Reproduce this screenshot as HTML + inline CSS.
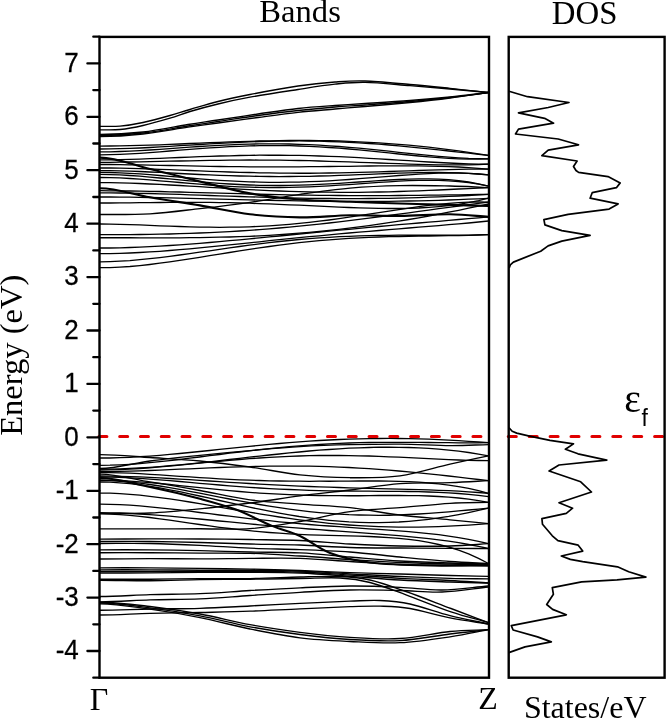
<!DOCTYPE html>
<html><head><meta charset="utf-8"><style>
html,body{margin:0;padding:0;background:#fff;}
svg{display:block;}
</style></head><body>
<svg width="666" height="719" viewBox="0 0 666 719" style="will-change:transform">
<rect width="666" height="719" fill="#fff"/>
<g fill="none" stroke="#000" stroke-width="1.35" stroke-linejoin="round">
<path d="M100.0 126.3C106.7 126.3 112.8 126.7 120.0 126.1C127.2 125.5 134.7 124.3 143.0 122.5C151.3 120.7 162.2 117.7 170.0 115.5C177.8 113.3 182.0 111.8 190.0 109.5C198.0 107.2 208.0 104.0 218.0 101.5C228.0 99.0 236.7 97.1 250.0 94.5C263.3 91.9 283.8 88.1 298.0 86.0C312.2 83.9 323.8 82.8 335.0 82.0C346.2 81.2 352.5 80.6 365.0 81.0C377.5 81.4 395.8 83.3 410.0 84.5C424.2 85.7 436.9 87.0 450.0 88.3C463.1 89.6 475.7 91.1 488.5 92.5"/>
<path d="M100.0 129.8C106.7 129.8 112.8 130.2 120.0 129.5C127.2 128.8 134.7 127.4 143.0 125.5C151.3 123.6 162.2 120.5 170.0 118.2C177.8 115.9 182.0 113.9 190.0 111.5C198.0 109.1 208.0 106.4 218.0 104.0C228.0 101.6 236.7 99.6 250.0 97.2C263.3 94.8 283.8 91.7 298.0 89.5C312.2 87.3 323.8 85.4 335.0 84.2C346.2 83.0 352.5 82.1 365.0 82.3C377.5 82.5 395.8 84.5 410.0 85.6C424.2 86.7 436.9 87.8 450.0 89.0C463.1 90.2 475.7 91.3 488.5 92.5"/>
<path d="M100.0 134.5C114.3 134.5 128.3 133.7 143.0 132.0C157.7 130.3 175.5 126.5 188.0 124.5C200.5 122.5 206.3 121.8 218.0 120.0C229.7 118.2 244.7 115.9 258.0 114.0C271.3 112.1 285.2 109.9 298.0 108.5C310.8 107.1 323.8 106.3 335.0 105.5C346.2 104.7 352.5 104.3 365.0 103.5C377.5 102.7 395.8 101.6 410.0 100.5C424.2 99.4 436.9 98.3 450.0 97.0C463.1 95.7 475.7 94.0 488.5 92.5"/>
<path d="M100.0 135.5C114.3 135.5 128.3 134.6 143.0 133.0C157.7 131.4 175.5 127.9 188.0 126.0C200.5 124.1 206.3 123.2 218.0 121.5C229.7 119.8 244.7 117.3 258.0 115.5C271.3 113.7 285.2 111.9 298.0 110.5C310.8 109.1 323.8 107.9 335.0 107.0C346.2 106.1 352.5 105.9 365.0 105.0C377.5 104.1 395.8 102.8 410.0 101.5C424.2 100.2 436.9 99.0 450.0 97.5C463.1 96.0 475.7 94.2 488.5 92.5"/>
<path d="M100.0 136.5C114.3 136.5 128.3 135.6 143.0 134.0C157.7 132.4 175.5 129.0 188.0 127.2C200.5 125.4 206.3 124.6 218.0 123.0C229.7 121.4 244.7 119.3 258.0 117.5C271.3 115.7 285.2 113.7 298.0 112.3C310.8 110.9 323.8 110.0 335.0 109.0C346.2 108.0 352.5 107.6 365.0 106.5C377.5 105.4 395.8 103.9 410.0 102.5C424.2 101.1 436.9 99.7 450.0 98.0C463.1 96.3 475.7 94.3 488.5 92.5"/>
<path d="M100.0 146.1 L110.0 146.0 L119.9 145.9 L129.9 145.7 L139.8 145.4 L149.8 145.1 L159.8 144.8 L169.7 144.4 L179.7 144.0 L189.7 143.5 L199.6 143.1 L209.6 142.7 L219.5 142.3 L229.5 141.9 L239.5 141.6 L249.4 141.3 L259.4 141.0 L269.3 140.8 L279.3 140.6 L289.3 140.5 L299.2 140.4 L309.2 140.5 L319.2 140.6 L329.1 140.7 L339.1 141.0 L349.0 141.3 L359.0 141.8 L369.0 142.3 L378.9 142.9 L388.9 143.6 L398.8 144.4 L408.8 145.2 L418.8 146.2 L428.7 147.2 L438.7 148.4 L448.7 149.6 L458.6 150.9 L468.6 152.3 L478.5 153.8 L488.5 155.4"/>
<path d="M100.0 149.0 L110.0 148.9 L119.9 148.7 L129.9 148.4 L139.8 148.0 L149.8 147.5 L159.8 146.9 L169.7 146.3 L179.7 145.7 L189.7 145.1 L199.6 144.5 L209.6 143.9 L219.5 143.3 L229.5 142.8 L239.5 142.3 L249.4 141.9 L259.4 141.5 L269.3 141.3 L279.3 141.1 L289.3 141.0 L299.2 140.9 L309.2 141.0 L319.2 141.2 L329.1 141.5 L339.1 141.8 L349.0 142.3 L359.0 142.8 L369.0 143.5 L378.9 144.2 L388.9 145.0 L398.8 145.8 L408.8 146.8 L418.8 147.8 L428.7 148.8 L438.7 149.9 L448.7 151.0 L458.6 152.1 L468.6 153.2 L478.5 154.3 L488.5 155.4"/>
<path d="M100.0 151.9 L110.0 151.8 L119.9 151.5 L129.9 151.1 L139.8 150.6 L149.8 150.0 L159.8 149.3 L169.7 148.6 L179.7 147.9 L189.7 147.2 L199.6 146.5 L209.6 145.9 L219.5 145.3 L229.5 144.8 L239.5 144.4 L249.4 144.1 L259.4 143.9 L269.3 143.8 L279.3 143.9 L289.3 144.0 L299.2 144.3 L309.2 144.7 L319.2 145.2 L329.1 145.8 L339.1 146.5 L349.0 147.3 L359.0 148.2 L369.0 149.1 L378.9 150.1 L388.9 151.2 L398.8 152.3 L408.8 153.3 L418.8 154.4 L428.7 155.4 L438.7 156.3 L448.7 157.1 L458.6 157.8 L468.6 158.4 L478.5 158.7 L488.5 158.9"/>
<path d="M100.0 154.8 L110.0 154.7 L119.9 154.4 L129.9 153.9 L139.8 153.3 L149.8 152.6 L159.8 151.8 L169.7 151.0 L179.7 150.2 L189.7 149.4 L199.6 148.7 L209.6 147.9 L219.5 147.3 L229.5 146.7 L239.5 146.3 L249.4 145.9 L259.4 145.7 L269.3 145.6 L279.3 145.6 L289.3 145.7 L299.2 146.0 L309.2 146.3 L319.2 146.8 L329.1 147.5 L339.1 148.2 L349.0 149.0 L359.0 149.9 L369.0 150.9 L378.9 151.9 L388.9 152.9 L398.8 154.0 L408.8 155.0 L418.8 156.0 L428.7 156.9 L438.7 157.7 L448.7 158.3 L458.6 158.8 L468.6 159.1 L478.5 159.2 L488.5 158.9"/>
<path d="M100.0 159.8 L110.0 159.8 L119.9 159.6 L129.9 159.4 L139.8 159.1 L149.8 158.7 L159.8 158.3 L169.7 157.9 L179.7 157.5 L189.7 157.1 L199.6 156.7 L209.6 156.4 L219.5 156.0 L229.5 155.8 L239.5 155.5 L249.4 155.4 L259.4 155.2 L269.3 155.2 L279.3 155.2 L289.3 155.3 L299.2 155.4 L309.2 155.7 L319.2 156.0 L329.1 156.3 L339.1 156.7 L349.0 157.2 L359.0 157.7 L369.0 158.3 L378.9 158.9 L388.9 159.5 L398.8 160.1 L408.8 160.7 L418.8 161.4 L428.7 162.0 L438.7 162.5 L448.7 163.0 L458.6 163.5 L468.6 163.8 L478.5 164.1 L488.5 164.2"/>
<path d="M100.0 162.3 L110.0 162.3 L119.9 162.2 L129.9 162.0 L139.8 161.9 L149.8 161.7 L159.8 161.4 L169.7 161.2 L179.7 161.0 L189.7 160.8 L199.6 160.6 L209.6 160.4 L219.5 160.3 L229.5 160.2 L239.5 160.1 L249.4 160.0 L259.4 160.1 L269.3 160.1 L279.3 160.2 L289.3 160.3 L299.2 160.5 L309.2 160.7 L319.2 161.0 L329.1 161.3 L339.1 161.6 L349.0 161.9 L359.0 162.3 L369.0 162.7 L378.9 163.0 L388.9 163.4 L398.8 163.7 L408.8 164.1 L418.8 164.3 L428.7 164.6 L438.7 164.8 L448.7 164.9 L458.6 164.9 L468.6 164.8 L478.5 164.6 L488.5 164.2"/>
<path d="M100.0 164.5 L110.0 164.5 L119.9 164.6 L129.9 164.8 L139.8 164.9 L149.8 165.1 L159.8 165.3 L169.7 165.5 L179.7 165.7 L189.7 165.9 L199.6 166.1 L209.6 166.3 L219.5 166.5 L229.5 166.6 L239.5 166.7 L249.4 166.8 L259.4 166.9 L269.3 166.9 L279.3 166.9 L289.3 166.9 L299.2 166.8 L309.2 166.7 L319.2 166.6 L329.1 166.5 L339.1 166.4 L349.0 166.3 L359.0 166.1 L369.0 166.0 L378.9 165.9 L388.9 165.9 L398.8 165.8 L408.8 165.8 L418.8 165.9 L428.7 166.1 L438.7 166.3 L448.7 166.6 L458.6 167.0 L468.6 167.6 L478.5 168.3 L488.5 169.1"/>
<path d="M100.0 168.0 L110.0 168.0 L119.9 168.1 L129.9 168.4 L139.8 168.6 L149.8 169.0 L159.8 169.3 L169.7 169.7 L179.7 170.1 L189.7 170.5 L199.6 170.9 L209.6 171.3 L219.5 171.6 L229.5 172.0 L239.5 172.3 L249.4 172.5 L259.4 172.8 L269.3 172.9 L279.3 173.1 L289.3 173.2 L299.2 173.2 L309.2 173.2 L319.2 173.1 L329.1 173.0 L339.1 172.9 L349.0 172.7 L359.0 172.4 L369.0 172.2 L378.9 171.9 L388.9 171.5 L398.8 171.2 L408.8 170.9 L418.8 170.5 L428.7 170.2 L438.7 169.9 L448.7 169.6 L458.6 169.4 L468.6 169.2 L478.5 169.1 L488.5 169.1"/>
<path d="M100.0 170.6 L110.0 170.6 L119.9 170.8 L129.9 171.1 L139.8 171.5 L149.8 172.0 L159.8 172.4 L169.7 172.9 L179.7 173.5 L189.7 174.0 L199.6 174.5 L209.6 174.9 L219.5 175.3 L229.5 175.7 L239.5 176.0 L249.4 176.2 L259.4 176.4 L269.3 176.5 L279.3 176.6 L289.3 176.5 L299.2 176.4 L309.2 176.3 L319.2 176.0 L329.1 175.8 L339.1 175.4 L349.0 175.1 L359.0 174.7 L369.0 174.3 L378.9 173.9 L388.9 173.5 L398.8 173.2 L408.8 172.9 L418.8 172.6 L428.7 172.5 L438.7 172.5 L448.7 172.6 L458.6 172.8 L468.6 173.3 L478.5 174.0 L488.5 174.9"/>
<path d="M100.0 172.3 L110.0 172.5 L119.9 172.8 L129.9 173.3 L139.8 173.9 L149.8 174.7 L159.8 175.5 L169.7 176.3 L179.7 177.2 L189.7 178.0 L199.6 178.8 L209.6 179.6 L219.5 180.3 L229.5 180.9 L239.5 181.4 L249.4 181.8 L259.4 182.1 L269.3 182.3 L279.3 182.3 L289.3 182.2 L299.2 182.1 L309.2 181.7 L319.2 181.3 L329.1 180.8 L339.1 180.2 L349.0 179.5 L359.0 178.7 L369.0 177.9 L378.9 177.1 L388.9 176.3 L398.8 175.5 L408.8 174.8 L418.8 174.1 L428.7 173.6 L438.7 173.2 L448.7 173.0 L458.6 173.0 L468.6 173.3 L478.5 174.0 L488.5 174.9"/>
<path d="M100.0 174.4 L110.0 174.6 L119.9 174.9 L129.9 175.5 L139.8 176.2 L149.8 177.1 L159.8 178.0 L169.7 178.9 L179.7 179.9 L189.7 180.8 L199.6 181.7 L209.6 182.6 L219.5 183.3 L229.5 184.0 L239.5 184.5 L249.4 185.0 L259.4 185.3 L269.3 185.4 L279.3 185.5 L289.3 185.4 L299.2 185.2 L309.2 184.9 L319.2 184.4 L329.1 183.9 L339.1 183.3 L349.0 182.7 L359.0 182.0 L369.0 181.3 L378.9 180.6 L388.9 180.0 L398.8 179.5 L408.8 179.1 L418.8 178.9 L428.7 178.9 L438.7 179.2 L448.7 179.7 L458.6 180.6 L468.6 182.0 L478.5 183.8 L488.5 186.1"/>
<path d="M100.0 177.5 L110.0 177.6 L119.9 177.9 L129.9 178.5 L139.8 179.1 L149.8 179.9 L159.8 180.8 L169.7 181.6 L179.7 182.5 L189.7 183.4 L199.6 184.2 L209.6 185.0 L219.5 185.7 L229.5 186.3 L239.5 186.8 L249.4 187.2 L259.4 187.4 L269.3 187.5 L279.3 187.5 L289.3 187.4 L299.2 187.2 L309.2 186.8 L319.2 186.4 L329.1 185.9 L339.1 185.2 L349.0 184.6 L359.0 183.9 L369.0 183.1 L378.9 182.4 L388.9 181.8 L398.8 181.2 L408.8 180.7 L418.8 180.4 L428.7 180.3 L438.7 180.4 L448.7 180.8 L458.6 181.5 L468.6 182.6 L478.5 184.1 L488.5 186.2"/>
<path d="M100.0 182.6 L110.0 182.7 L119.9 182.9 L129.9 183.2 L139.8 183.5 L149.8 184.0 L159.8 184.4 L169.7 185.0 L179.7 185.5 L189.7 186.1 L199.6 186.7 L209.6 187.3 L219.5 187.9 L229.5 188.5 L239.5 189.1 L249.4 189.6 L259.4 190.1 L269.3 190.6 L279.3 191.0 L289.3 191.4 L299.2 191.7 L309.2 191.9 L319.2 192.1 L329.1 192.2 L339.1 192.3 L349.0 192.3 L359.0 192.3 L369.0 192.2 L378.9 192.0 L388.9 191.8 L398.8 191.5 L408.8 191.2 L418.8 190.8 L428.7 190.4 L438.7 190.0 L448.7 189.5 L458.6 189.0 L468.6 188.6 L478.5 188.1 L488.5 187.6"/>
<path d="M100.0 190.7 L110.0 190.8 L119.9 190.8 L129.9 191.0 L139.8 191.1 L149.8 191.3 L159.8 191.5 L169.7 191.8 L179.7 192.0 L189.7 192.3 L199.6 192.6 L209.6 192.9 L219.5 193.2 L229.5 193.4 L239.5 193.7 L249.4 194.0 L259.4 194.2 L269.3 194.5 L279.3 194.7 L289.3 194.9 L299.2 195.1 L309.2 195.2 L319.2 195.3 L329.1 195.4 L339.1 195.5 L349.0 195.6 L359.0 195.6 L369.0 195.6 L378.9 195.6 L388.9 195.6 L398.8 195.5 L408.8 195.4 L418.8 195.3 L428.7 195.2 L438.7 195.1 L448.7 194.9 L458.6 194.8 L468.6 194.7 L478.5 194.5 L488.5 194.4"/>
<path d="M100.0 192.8 L110.0 192.9 L119.9 193.0 L129.9 193.1 L139.8 193.3 L149.8 193.5 L159.8 193.8 L169.7 194.1 L179.7 194.4 L189.7 194.8 L199.6 195.1 L209.6 195.5 L219.5 195.8 L229.5 196.2 L239.5 196.5 L249.4 196.8 L259.4 197.1 L269.3 197.4 L279.3 197.7 L289.3 197.9 L299.2 198.1 L309.2 198.3 L319.2 198.4 L329.1 198.5 L339.1 198.6 L349.0 198.6 L359.0 198.6 L369.0 198.5 L378.9 198.4 L388.9 198.3 L398.8 198.1 L408.8 197.8 L418.8 197.6 L428.7 197.2 L438.7 196.9 L448.7 196.4 L458.6 196.0 L468.6 195.5 L478.5 194.9 L488.5 194.4"/>
<path d="M100.0 197.0 L110.0 197.0 L119.9 197.1 L129.9 197.2 L139.8 197.3 L149.8 197.5 L159.8 197.7 L169.7 197.9 L179.7 198.1 L189.7 198.3 L199.6 198.6 L209.6 198.8 L219.5 199.1 L229.5 199.3 L239.5 199.6 L249.4 199.8 L259.4 200.1 L269.3 200.3 L279.3 200.5 L289.3 200.7 L299.2 200.9 L309.2 201.0 L319.2 201.2 L329.1 201.3 L339.1 201.4 L349.0 201.4 L359.0 201.4 L369.0 201.4 L378.9 201.4 L388.9 201.3 L398.8 201.2 L408.8 201.0 L418.8 200.8 L428.7 200.6 L438.7 200.3 L448.7 200.0 L458.6 199.6 L468.6 199.2 L478.5 198.8 L488.5 198.3"/>
<path d="M100.0 203.0 L110.0 203.0 L119.9 202.9 L129.9 202.8 L139.8 202.7 L149.8 202.6 L159.8 202.5 L169.7 202.4 L179.7 202.3 L189.7 202.3 L199.6 202.4 L209.6 202.4 L219.5 202.6 L229.5 202.7 L239.5 203.0 L249.4 203.2 L259.4 203.6 L269.3 203.9 L279.3 204.3 L289.3 204.8 L299.2 205.2 L309.2 205.7 L319.2 206.2 L329.1 206.7 L339.1 207.1 L349.0 207.5 L359.0 207.9 L369.0 208.2 L378.9 208.4 L388.9 208.5 L398.8 208.5 L408.8 208.3 L418.8 208.0 L428.7 207.4 L438.7 206.6 L448.7 205.6 L458.6 204.3 L468.6 202.6 L478.5 200.6 L488.5 198.2"/>
<path d="M100.0 224.0 L110.0 224.1 L119.9 224.3 L129.9 224.6 L139.8 224.9 L149.8 225.3 L159.8 225.8 L169.7 226.1 L179.7 226.5 L189.7 226.8 L199.6 227.1 L209.6 227.2 L219.5 227.3 L229.5 227.2 L239.5 227.1 L249.4 226.8 L259.4 226.4 L269.3 225.8 L279.3 225.2 L289.3 224.4 L299.2 223.4 L309.2 222.4 L319.2 221.2 L329.1 220.0 L339.1 218.6 L349.0 217.2 L359.0 215.7 L369.0 214.2 L378.9 212.6 L388.9 211.1 L398.8 209.6 L408.8 208.1 L418.8 206.7 L428.7 205.4 L438.7 204.3 L448.7 203.4 L458.6 202.7 L468.6 202.2 L478.5 202.0 L488.5 202.2"/>
<path d="M100.0 234.6 L110.0 234.6 L119.9 234.6 L129.9 234.6 L139.8 234.5 L149.8 234.3 L159.8 234.2 L169.7 234.0 L179.7 233.7 L189.7 233.4 L199.6 233.0 L209.6 232.6 L219.5 232.1 L229.5 231.6 L239.5 231.0 L249.4 230.4 L259.4 229.6 L269.3 228.9 L279.3 228.0 L289.3 227.1 L299.2 226.2 L309.2 225.2 L319.2 224.1 L329.1 223.0 L339.1 221.9 L349.0 220.7 L359.0 219.4 L369.0 218.2 L378.9 216.9 L388.9 215.5 L398.8 214.2 L408.8 212.8 L418.8 211.4 L428.7 210.1 L438.7 208.7 L448.7 207.3 L458.6 206.0 L468.6 204.7 L478.5 203.4 L488.5 202.2"/>
<path d="M100.0 237.7 L110.0 237.7 L119.9 237.7 L129.9 237.7 L139.8 237.8 L149.8 237.8 L159.8 237.8 L169.7 237.8 L179.7 237.8 L189.7 237.7 L199.6 237.6 L209.6 237.4 L219.5 237.2 L229.5 237.0 L239.5 236.6 L249.4 236.3 L259.4 235.8 L269.3 235.3 L279.3 234.7 L289.3 234.0 L299.2 233.2 L309.2 232.4 L319.2 231.5 L329.1 230.4 L339.1 229.4 L349.0 228.2 L359.0 226.9 L369.0 225.6 L378.9 224.2 L388.9 222.7 L398.8 221.1 L408.8 219.5 L418.8 217.8 L428.7 216.0 L438.7 214.1 L448.7 212.2 L458.6 210.3 L468.6 208.2 L478.5 206.2 L488.5 204.0"/>
<path d="M100.0 248.0 L110.0 248.0 L119.9 247.8 L129.9 247.5 L139.8 247.1 L149.8 246.7 L159.8 246.1 L169.7 245.5 L179.7 244.8 L189.7 244.1 L199.6 243.3 L209.6 242.5 L219.5 241.6 L229.5 240.7 L239.5 239.8 L249.4 238.9 L259.4 237.9 L269.3 236.9 L279.3 236.0 L289.3 235.0 L299.2 234.0 L309.2 233.1 L319.2 232.1 L329.1 231.1 L339.1 230.2 L349.0 229.3 L359.0 228.3 L369.0 227.4 L378.9 226.5 L388.9 225.6 L398.8 224.7 L408.8 223.9 L418.8 223.0 L428.7 222.1 L438.7 221.3 L448.7 220.4 L458.6 219.5 L468.6 218.7 L478.5 217.8 L488.5 216.9"/>
<path d="M100.0 253.7 L110.0 253.6 L119.9 253.3 L129.9 253.0 L139.8 252.5 L149.8 251.9 L159.8 251.3 L169.7 250.5 L179.7 249.7 L189.7 248.8 L199.6 247.9 L209.6 246.9 L219.5 245.9 L229.5 244.9 L239.5 243.9 L249.4 242.8 L259.4 241.8 L269.3 240.7 L279.3 239.7 L289.3 238.7 L299.2 237.7 L309.2 236.7 L319.2 235.8 L329.1 234.8 L339.1 233.9 L349.0 233.0 L359.0 232.1 L369.0 231.3 L378.9 230.5 L388.9 229.6 L398.8 228.8 L408.8 228.0 L418.8 227.2 L428.7 226.4 L438.7 225.6 L448.7 224.7 L458.6 223.9 L468.6 223.0 L478.5 222.0 L488.5 221.0"/>
<path d="M100.0 261.8 L110.0 261.6 L119.9 261.2 L129.9 260.6 L139.8 259.7 L149.8 258.7 L159.8 257.6 L169.7 256.4 L179.7 255.0 L189.7 253.6 L199.6 252.2 L209.6 250.8 L219.5 249.3 L229.5 247.9 L239.5 246.5 L249.4 245.2 L259.4 243.9 L269.3 242.7 L279.3 241.5 L289.3 240.5 L299.2 239.5 L309.2 238.7 L319.2 237.9 L329.1 237.3 L339.1 236.7 L349.0 236.3 L359.0 235.9 L369.0 235.6 L378.9 235.4 L388.9 235.3 L398.8 235.2 L408.8 235.2 L418.8 235.2 L428.7 235.2 L438.7 235.2 L448.7 235.2 L458.6 235.2 L468.6 235.1 L478.5 234.9 L488.5 234.6"/>
<path d="M100.0 267.7 L110.0 267.6 L119.9 267.1 L129.9 266.5 L139.8 265.6 L149.8 264.5 L159.8 263.2 L169.7 261.9 L179.7 260.4 L189.7 258.9 L199.6 257.3 L209.6 255.7 L219.5 254.1 L229.5 252.5 L239.5 250.9 L249.4 249.3 L259.4 247.9 L269.3 246.5 L279.3 245.1 L289.3 243.9 L299.2 242.7 L309.2 241.7 L319.2 240.7 L329.1 239.9 L339.1 239.1 L349.0 238.4 L359.0 237.9 L369.0 237.4 L378.9 237.0 L388.9 236.7 L398.8 236.5 L408.8 236.3 L418.8 236.1 L428.7 236.0 L438.7 235.9 L448.7 235.7 L458.6 235.6 L468.6 235.3 L478.5 235.0 L488.5 234.6"/>
<path d="M100.0 458.0 L110.0 458.0 L119.9 457.7 L129.9 457.3 L139.8 456.7 L149.8 456.1 L159.8 455.3 L169.7 454.4 L179.7 453.5 L189.7 452.5 L199.6 451.5 L209.6 450.5 L219.5 449.4 L229.5 448.4 L239.5 447.4 L249.4 446.3 L259.4 445.4 L269.3 444.4 L279.3 443.5 L289.3 442.7 L299.2 441.9 L309.2 441.2 L319.2 440.5 L329.1 440.0 L339.1 439.5 L349.0 439.1 L359.0 438.8 L369.0 438.6 L378.9 438.5 L388.9 438.4 L398.8 438.5 L408.8 438.7 L418.8 438.9 L428.7 439.2 L438.7 439.6 L448.7 440.1 L458.6 440.7 L468.6 441.3 L478.5 442.0 L488.5 442.7"/>
<path d="M100.0 465.3 L110.0 465.2 L119.9 464.8 L129.9 464.3 L139.8 463.6 L149.8 462.7 L159.8 461.7 L169.7 460.6 L179.7 459.5 L189.7 458.2 L199.6 457.0 L209.6 455.7 L219.5 454.5 L229.5 453.2 L239.5 452.0 L249.4 450.8 L259.4 449.7 L269.3 448.6 L279.3 447.6 L289.3 446.7 L299.2 445.9 L309.2 445.1 L319.2 444.5 L329.1 443.9 L339.1 443.4 L349.0 443.0 L359.0 442.7 L369.0 442.5 L378.9 442.4 L388.9 442.3 L398.8 442.3 L408.8 442.3 L418.8 442.4 L428.7 442.5 L438.7 442.6 L448.7 442.7 L458.6 442.8 L468.6 442.8 L478.5 442.8 L488.5 442.7"/>
<path d="M100.0 469.1 L110.0 469.1 L119.9 468.8 L129.9 468.4 L139.8 467.9 L149.8 467.3 L159.8 466.6 L169.7 465.7 L179.7 464.8 L189.7 463.9 L199.6 462.8 L209.6 461.8 L219.5 460.7 L229.5 459.5 L239.5 458.4 L249.4 457.2 L259.4 456.1 L269.3 455.0 L279.3 454.0 L289.3 452.9 L299.2 452.0 L309.2 451.0 L319.2 450.2 L329.1 449.5 L339.1 448.8 L349.0 448.2 L359.0 447.8 L369.0 447.5 L378.9 447.2 L388.9 447.2 L398.8 447.3 L408.8 447.5 L418.8 447.9 L428.7 448.4 L438.7 449.2 L448.7 450.1 L458.6 451.2 L468.6 452.5 L478.5 454.1 L488.5 455.8"/>
<path d="M100.0 470.0 L110.0 469.9 L119.9 469.6 L129.9 469.1 L139.8 468.5 L149.8 467.8 L159.8 466.9 L169.7 466.1 L179.7 465.1 L189.7 464.2 L199.6 463.2 L209.6 462.2 L219.5 461.3 L229.5 460.4 L239.5 459.5 L249.4 458.7 L259.4 458.0 L269.3 457.4 L279.3 456.8 L289.3 456.4 L299.2 456.0 L309.2 455.7 L319.2 455.5 L329.1 455.5 L339.1 455.5 L349.0 455.6 L359.0 455.8 L369.0 456.0 L378.9 456.4 L388.9 456.8 L398.8 457.2 L408.8 457.7 L418.8 458.2 L428.7 458.7 L438.7 459.1 L448.7 459.6 L458.6 460.0 L468.6 460.3 L478.5 460.5 L488.5 460.6"/>
<path d="M100.0 471.6 L110.0 471.6 L119.9 471.4 L129.9 471.2 L139.8 470.9 L149.8 470.5 L159.8 470.1 L169.7 469.7 L179.7 469.2 L189.7 468.8 L199.6 468.4 L209.6 467.9 L219.5 467.5 L229.5 467.2 L239.5 466.8 L249.4 466.6 L259.4 466.3 L269.3 466.2 L279.3 466.1 L289.3 466.1 L299.2 466.1 L309.2 466.2 L319.2 466.4 L329.1 466.7 L339.1 467.1 L349.0 467.5 L359.0 468.1 L369.0 468.7 L378.9 469.4 L388.9 470.1 L398.8 471.0 L408.8 471.9 L418.8 472.8 L428.7 473.8 L438.7 474.9 L448.7 476.0 L458.6 477.1 L468.6 478.3 L478.5 479.5 L488.5 480.7"/>
<path d="M100.0 472.5 L110.0 472.6 L119.9 472.8 L129.9 473.2 L139.8 473.7 L149.8 474.3 L159.8 474.9 L169.7 475.6 L179.7 476.3 L189.7 476.9 L199.6 477.6 L209.6 478.2 L219.5 478.8 L229.5 479.3 L239.5 479.8 L249.4 480.2 L259.4 480.5 L269.3 480.8 L279.3 481.0 L289.3 481.1 L299.2 481.2 L309.2 481.3 L319.2 481.2 L329.1 481.2 L339.1 481.1 L349.0 481.1 L359.0 481.0 L369.0 481.0 L378.9 481.0 L388.9 481.2 L398.8 481.4 L408.8 481.7 L418.8 482.2 L428.7 483.0 L438.7 483.9 L448.7 485.1 L458.6 486.6 L468.6 488.4 L478.5 490.7 L488.5 493.3"/>
<path d="M100.0 476.0 L110.0 476.1 L119.9 476.3 L129.9 476.6 L139.8 476.9 L149.8 477.4 L159.8 477.9 L169.7 478.5 L179.7 479.1 L189.7 479.7 L199.6 480.3 L209.6 481.0 L219.5 481.6 L229.5 482.3 L239.5 482.9 L249.4 483.5 L259.4 484.1 L269.3 484.6 L279.3 485.1 L289.3 485.6 L299.2 486.1 L309.2 486.5 L319.2 486.9 L329.1 487.2 L339.1 487.5 L349.0 487.8 L359.0 488.1 L369.0 488.3 L378.9 488.6 L388.9 488.8 L398.8 489.1 L408.8 489.3 L418.8 489.6 L428.7 489.9 L438.7 490.3 L448.7 490.7 L458.6 491.2 L468.6 491.8 L478.5 492.5 L488.5 493.3"/>
<path d="M100.0 477.0 L110.0 477.1 L119.9 477.4 L129.9 477.9 L139.8 478.4 L149.8 479.1 L159.8 479.9 L169.7 480.7 L179.7 481.5 L189.7 482.4 L199.6 483.3 L209.6 484.1 L219.5 485.0 L229.5 485.8 L239.5 486.6 L249.4 487.3 L259.4 488.0 L269.3 488.6 L279.3 489.1 L289.3 489.5 L299.2 489.9 L309.2 490.3 L319.2 490.6 L329.1 490.8 L339.1 490.9 L349.0 491.0 L359.0 491.1 L369.0 491.2 L378.9 491.3 L388.9 491.3 L398.8 491.4 L408.8 491.5 L418.8 491.7 L428.7 492.0 L438.7 492.4 L448.7 492.9 L458.6 493.5 L468.6 494.4 L478.5 495.4 L488.5 496.7"/>
<path d="M100.0 480.0 L110.0 480.2 L119.9 480.5 L129.9 481.1 L139.8 481.8 L149.8 482.6 L159.8 483.5 L169.7 484.5 L179.7 485.6 L189.7 486.6 L199.6 487.7 L209.6 488.7 L219.5 489.7 L229.5 490.6 L239.5 491.5 L249.4 492.3 L259.4 493.1 L269.3 493.7 L279.3 494.2 L289.3 494.7 L299.2 495.0 L309.2 495.3 L319.2 495.5 L329.1 495.6 L339.1 495.7 L349.0 495.7 L359.0 495.7 L369.0 495.6 L378.9 495.5 L388.9 495.5 L398.8 495.5 L408.8 495.6 L418.8 495.7 L428.7 496.0 L438.7 496.5 L448.7 497.1 L458.6 498.0 L468.6 499.1 L478.5 500.6 L488.5 502.4"/>
<path d="M100.0 480.6 L110.0 480.7 L119.9 481.3 L129.9 482.1 L139.8 483.2 L149.8 484.5 L159.8 486.0 L169.7 487.6 L179.7 489.4 L189.7 491.3 L199.6 493.2 L209.6 495.1 L219.5 497.1 L229.5 499.0 L239.5 500.9 L249.4 502.7 L259.4 504.5 L269.3 506.2 L279.3 507.7 L289.3 509.1 L299.2 510.4 L309.2 511.6 L319.2 512.6 L329.1 513.4 L339.1 514.1 L349.0 514.7 L359.0 515.0 L369.0 515.2 L378.9 515.3 L388.9 515.2 L398.8 514.9 L408.8 514.5 L418.8 514.0 L428.7 513.4 L438.7 512.6 L448.7 511.8 L458.6 510.9 L468.6 510.0 L478.5 509.1 L488.5 508.1"/>
<path d="M100.0 482.0 L110.0 482.2 L119.9 482.8 L129.9 483.7 L139.8 484.8 L149.8 486.3 L159.8 487.9 L169.7 489.8 L179.7 491.7 L189.7 493.8 L199.6 496.0 L209.6 498.2 L219.5 500.5 L229.5 502.7 L239.5 504.9 L249.4 507.1 L259.4 509.2 L269.3 511.2 L279.3 513.1 L289.3 514.8 L299.2 516.5 L309.2 517.9 L319.2 519.2 L329.1 520.3 L339.1 521.2 L349.0 521.9 L359.0 522.3 L369.0 522.6 L378.9 522.6 L388.9 522.4 L398.8 522.0 L408.8 521.3 L418.8 520.4 L428.7 519.3 L438.7 517.9 L448.7 516.4 L458.6 514.6 L468.6 512.6 L478.5 510.4 L488.5 508.1"/>
<path d="M100.0 493.1 L110.0 493.2 L119.9 493.7 L129.9 494.3 L139.8 495.2 L149.8 496.3 L159.8 497.6 L169.7 498.9 L179.7 500.4 L189.7 502.0 L199.6 503.6 L209.6 505.3 L219.5 507.1 L229.5 508.8 L239.5 510.5 L249.4 512.2 L259.4 513.8 L269.3 515.4 L279.3 517.0 L289.3 518.4 L299.2 519.8 L309.2 521.0 L319.2 522.2 L329.1 523.3 L339.1 524.2 L349.0 525.0 L359.0 525.7 L369.0 526.2 L378.9 526.6 L388.9 526.9 L398.8 527.1 L408.8 527.1 L418.8 527.1 L428.7 526.9 L438.7 526.6 L448.7 526.2 L458.6 525.7 L468.6 525.1 L478.5 524.4 L488.5 523.7"/>
<path d="M100.0 504.2 L110.0 504.3 L119.9 504.6 L129.9 505.2 L139.8 505.9 L149.8 506.8 L159.8 507.8 L169.7 508.9 L179.7 510.0 L189.7 511.2 L199.6 512.5 L209.6 513.7 L219.5 515.0 L229.5 516.2 L239.5 517.4 L249.4 518.6 L259.4 519.7 L269.3 520.7 L279.3 521.8 L289.3 522.7 L299.2 523.6 L309.2 524.5 L319.2 525.3 L329.1 526.0 L339.1 526.7 L349.0 527.4 L359.0 528.1 L369.0 528.8 L378.9 529.4 L388.9 530.1 L398.8 530.9 L408.8 531.7 L418.8 532.6 L428.7 533.6 L438.7 534.7 L448.7 536.1 L458.6 537.6 L468.6 539.3 L478.5 541.3 L488.5 543.6"/>
<path d="M100.0 512.7 L110.0 512.8 L119.9 513.0 L129.9 513.4 L139.8 514.0 L149.8 514.7 L159.8 515.4 L169.7 516.2 L179.7 517.1 L189.7 518.1 L199.6 519.0 L209.6 520.0 L219.5 521.0 L229.5 521.9 L239.5 522.9 L249.4 523.8 L259.4 524.8 L269.3 525.7 L279.3 526.5 L289.3 527.4 L299.2 528.2 L309.2 529.0 L319.2 529.7 L329.1 530.5 L339.1 531.2 L349.0 531.9 L359.0 532.6 L369.0 533.3 L378.9 534.1 L388.9 534.9 L398.8 535.7 L408.8 536.6 L418.8 537.6 L428.7 538.7 L438.7 539.9 L448.7 541.2 L458.6 542.7 L468.6 544.5 L478.5 546.4 L488.5 548.5"/>
<path d="M100.0 513.9 L110.0 514.1 L119.9 514.6 L129.9 515.3 L139.8 516.4 L149.8 517.5 L159.8 518.8 L169.7 520.2 L179.7 521.6 L189.7 523.1 L199.6 524.5 L209.6 525.9 L219.5 527.3 L229.5 528.5 L239.5 529.7 L249.4 530.7 L259.4 531.7 L269.3 532.5 L279.3 533.2 L289.3 533.8 L299.2 534.3 L309.2 534.8 L319.2 535.1 L329.1 535.4 L339.1 535.6 L349.0 535.9 L359.0 536.2 L369.0 536.5 L378.9 537.0 L388.9 537.6 L398.8 538.4 L408.8 539.4 L418.8 540.7 L428.7 542.4 L438.7 544.5 L448.7 547.0 L458.6 550.1 L468.6 553.9 L478.5 558.3 L488.5 563.5"/>
<path d="M100.0 214.5C116.7 214.5 133.3 214.8 150.0 213.8C166.7 212.8 183.3 210.5 200.0 208.6C216.7 206.7 233.3 204.7 250.0 202.3C266.7 199.9 283.3 196.8 300.0 194.4C316.7 192.0 333.3 189.6 350.0 188.1C366.7 186.6 383.3 185.9 400.0 185.6C416.7 185.2 435.2 185.7 450.0 186.0C464.8 186.3 475.7 187.1 488.5 187.6"/>
<path d="M100.0 602.2C116.7 602.2 133.3 604.5 150.0 606.5C166.7 608.5 183.3 611.0 200.0 614.0C216.7 617.0 233.3 621.7 250.0 624.7C266.7 627.8 283.3 630.2 300.0 632.3C316.7 634.4 333.3 636.3 350.0 637.3C366.7 638.3 383.3 639.5 400.0 638.5C416.7 637.5 435.2 633.0 450.0 631.5C464.8 630.0 475.7 630.3 488.5 629.7"/>
<path d="M100.0 603.0C116.7 603.0 133.3 605.7 150.0 607.8C166.7 609.9 183.3 612.6 200.0 615.8C216.7 619.0 233.3 623.7 250.0 626.8C266.7 629.9 283.3 632.4 300.0 634.5C316.7 636.6 333.3 638.5 350.0 639.5C366.7 640.5 383.3 641.5 400.0 640.6C416.7 639.7 435.2 635.8 450.0 634.0C464.8 632.2 475.7 631.1 488.5 629.7"/>
<path d="M100.0 603.8C116.7 603.8 133.3 606.9 150.0 609.2C166.7 611.5 183.3 614.3 200.0 617.6C216.7 620.9 233.3 625.6 250.0 629.0C266.7 632.4 283.3 635.8 300.0 637.9C316.7 640.0 333.3 640.7 350.0 641.5C366.7 642.3 383.3 643.5 400.0 642.7C416.7 641.9 435.2 639.0 450.0 636.8C464.8 634.6 475.7 632.1 488.5 629.7"/>
<path d="M100.0 596.5C116.7 596.5 133.3 595.1 150.0 594.6C166.7 594.1 183.3 594.4 200.0 593.7C216.7 593.0 233.3 591.5 250.0 590.5C266.7 589.5 283.3 588.5 300.0 587.8C316.7 587.0 333.3 586.1 350.0 586.0C366.7 585.9 384.7 586.6 400.0 587.3C415.3 588.0 427.2 590.2 442.0 590.0C456.8 589.8 473.0 587.3 488.5 586.0"/>
<path d="M100.0 601.8C116.7 601.8 133.3 600.4 150.0 599.9C166.7 599.4 183.3 599.6 200.0 598.9C216.7 598.2 233.3 596.6 250.0 595.5C266.7 594.4 283.3 593.2 300.0 592.3C316.7 591.4 333.3 590.3 350.0 590.0C366.7 589.7 384.7 590.2 400.0 590.5C415.3 590.8 427.2 592.6 442.0 592.0C456.8 591.4 473.0 588.7 488.5 587.0"/>
<path d="M100.0 610.2C116.7 610.2 133.3 609.3 150.0 609.0C166.7 608.7 183.3 608.8 200.0 608.3C216.7 607.8 233.3 606.8 250.0 606.0C266.7 605.2 283.3 604.2 300.0 603.4C316.7 602.6 336.7 601.7 350.0 601.2C363.3 600.7 370.0 600.0 380.0 600.5C390.0 601.0 398.3 601.5 410.0 604.0C421.7 606.5 436.9 612.3 450.0 615.6C463.1 618.9 475.7 621.2 488.5 624.0"/>
<path d="M100.0 615.0C116.7 615.0 133.3 613.8 150.0 613.4C166.7 613.0 183.3 612.9 200.0 612.5C216.7 612.1 233.3 611.8 250.0 611.2C266.7 610.6 283.3 609.6 300.0 608.9C316.7 608.1 336.7 607.2 350.0 606.7C363.3 606.2 370.0 605.9 380.0 606.2C390.0 606.5 398.3 606.5 410.0 608.5C421.7 610.5 436.9 615.3 450.0 617.9C463.1 620.5 475.7 622.0 488.5 624.0"/>
<path d="M100.0 539.1C116.7 539.1 133.3 538.8 150.0 538.8C166.7 538.8 183.3 538.9 200.0 539.0C216.7 539.1 233.3 539.2 250.0 539.5C266.7 539.8 283.3 539.8 300.0 540.5C316.7 541.2 333.3 543.1 350.0 544.0C366.7 544.9 383.3 545.7 400.0 546.0C416.7 546.3 435.2 546.4 450.0 546.0C464.8 545.6 475.7 544.5 488.5 543.7"/>
<path d="M100.0 541.5C116.7 541.5 133.3 541.3 150.0 541.5C166.7 541.7 183.3 542.1 200.0 542.5C216.7 542.9 233.3 543.6 250.0 544.0C266.7 544.4 283.3 544.4 300.0 545.0C316.7 545.6 333.3 547.0 350.0 547.5C366.7 548.0 383.3 547.9 400.0 548.0C416.7 548.1 435.2 548.2 450.0 548.3C464.8 548.4 475.7 548.5 488.5 548.6"/>
<path d="M100.0 543.5C116.7 543.5 133.3 543.2 150.0 543.5C166.7 543.8 183.3 544.5 200.0 545.3C216.7 546.1 233.3 547.5 250.0 548.2C266.7 548.9 283.3 549.0 300.0 549.6C316.7 550.2 333.3 550.8 350.0 552.0C366.7 553.2 383.3 555.4 400.0 557.0C416.7 558.6 435.2 560.4 450.0 561.5C464.8 562.6 475.7 562.9 488.5 563.6"/>
<path d="M100.0 549.8C116.7 549.8 133.3 549.7 150.0 549.8C166.7 549.9 183.3 550.2 200.0 550.6C216.7 551.0 233.3 551.6 250.0 552.0C266.7 552.4 283.3 552.1 300.0 552.9C316.7 553.7 333.3 555.6 350.0 557.0C366.7 558.4 383.3 560.0 400.0 561.0C416.7 562.0 435.2 562.6 450.0 563.0C464.8 563.4 475.7 563.4 488.5 563.6"/>
<path d="M100.0 552.7C116.7 552.7 133.3 552.6 150.0 552.7C166.7 552.8 183.3 553.0 200.0 553.1C216.7 553.2 233.3 552.8 250.0 553.3C266.7 553.8 283.3 555.0 300.0 556.0C316.7 557.0 333.3 558.4 350.0 559.5C366.7 560.6 383.3 561.8 400.0 562.5C416.7 563.2 435.2 563.6 450.0 564.0C464.8 564.4 475.7 564.7 488.5 565.0"/>
<path d="M100.0 559.0C116.7 559.0 133.3 558.6 150.0 558.6C166.7 558.6 183.3 558.9 200.0 558.9C216.7 558.9 233.3 558.5 250.0 558.4C266.7 558.3 283.3 557.9 300.0 558.4C316.7 558.9 333.3 560.5 350.0 561.5C366.7 562.5 383.3 563.8 400.0 564.5C416.7 565.2 435.2 565.2 450.0 565.5C464.8 565.8 475.7 565.8 488.5 566.0"/>
<path d="M100.0 567.8C116.7 567.8 133.3 567.7 150.0 567.8C166.7 567.9 183.3 568.2 200.0 568.4C216.7 568.6 233.3 568.8 250.0 569.1C266.7 569.5 283.3 569.9 300.0 570.5C316.7 571.1 333.3 572.0 350.0 572.6C366.7 573.2 383.3 573.5 400.0 574.0C416.7 574.5 435.2 575.1 450.0 575.5C464.8 575.9 475.7 576.0 488.5 576.3"/>
<path d="M100.0 569.8C116.7 569.8 133.3 569.7 150.0 569.8C166.7 569.9 183.3 570.1 200.0 570.2C216.7 570.3 233.3 570.1 250.0 570.2C266.7 570.4 283.3 570.5 300.0 571.1C316.7 571.7 333.3 572.9 350.0 573.8C366.7 574.7 383.3 575.8 400.0 576.5C416.7 577.2 435.2 577.9 450.0 578.3C464.8 578.7 475.7 578.7 488.5 578.9"/>
<path d="M100.0 571.5C116.7 571.5 133.3 571.5 150.0 571.5C166.7 571.5 183.3 571.3 200.0 571.3C216.7 571.3 233.3 571.2 250.0 571.3C266.7 571.4 283.3 571.4 300.0 572.0C316.7 572.6 333.3 574.0 350.0 575.0C366.7 576.0 383.3 577.4 400.0 578.3C416.7 579.2 435.2 579.7 450.0 580.5C464.8 581.3 475.7 582.2 488.5 583.0"/>
<path d="M100.0 573.0C116.7 573.0 133.3 573.0 150.0 572.9C166.7 572.8 183.3 572.4 200.0 572.3C216.7 572.2 233.3 572.2 250.0 572.3C266.7 572.4 283.3 572.3 300.0 573.0C316.7 573.7 333.3 575.1 350.0 576.3C366.7 577.5 383.3 579.0 400.0 580.0C416.7 581.0 435.2 581.5 450.0 582.0C464.8 582.5 475.7 582.7 488.5 583.0"/>
<path d="M100.0 579.2C116.7 579.2 133.3 579.3 150.0 579.2C166.7 579.1 183.3 578.7 200.0 578.6C216.7 578.5 233.3 578.9 250.0 578.6C266.7 578.3 285.0 577.4 300.0 577.0C315.0 576.6 328.3 576.0 340.0 576.5C351.7 577.0 359.0 577.5 370.0 580.0C381.0 582.5 392.5 586.8 406.0 591.5C419.5 596.2 437.2 603.3 451.0 608.5C464.8 613.7 476.0 617.9 488.5 622.6"/>
<path d="M100.0 580.2C116.7 580.2 133.3 580.8 150.0 580.7C166.7 580.6 183.3 579.9 200.0 579.6C216.7 579.4 233.3 579.4 250.0 579.2C266.7 579.0 285.0 578.7 300.0 578.5C315.0 578.3 328.3 577.3 340.0 578.0C351.7 578.7 359.0 579.7 370.0 582.5C381.0 585.3 392.5 589.9 406.0 594.8C419.5 599.7 437.2 607.2 451.0 611.8C464.8 616.4 476.0 619.0 488.5 622.6"/>
<path d="M100.0 468.5C116.7 468.5 133.3 463.2 150.0 461.0C166.7 458.8 183.3 457.1 200.0 455.4C216.7 453.7 233.3 452.1 250.0 450.6C266.7 449.2 283.3 447.7 300.0 446.7C316.7 445.7 333.3 445.1 350.0 444.7C366.7 444.3 383.3 444.0 400.0 444.1C416.7 444.2 435.2 445.5 450.0 445.6C464.8 445.7 475.7 444.9 488.5 444.6"/>
<path d="M100.0 454.6C116.7 454.6 133.3 456.4 150.0 457.5C166.7 458.6 183.3 459.4 200.0 461.0C216.7 462.6 233.3 464.7 250.0 467.0C266.7 469.3 283.3 473.1 300.0 474.9C316.7 476.7 333.3 477.5 350.0 477.7C366.7 477.9 383.3 478.1 400.0 475.8C416.7 473.5 435.2 467.4 450.0 464.1C464.8 460.8 475.7 458.6 488.5 455.8"/>
<path d="M100.0 474.1C116.7 474.1 133.3 479.2 150.0 481.9C166.7 484.6 183.3 487.5 200.0 490.5C216.7 493.5 233.3 497.5 250.0 499.8C266.7 502.1 283.3 502.8 300.0 504.1C316.7 505.4 333.3 505.8 350.0 507.6C366.7 509.4 383.3 513.0 400.0 515.0C416.7 517.0 435.2 518.3 450.0 519.8C464.8 521.2 475.7 522.4 488.5 523.7"/>
<path d="M100.0 513.4C116.7 513.4 133.3 513.8 150.0 513.0C166.7 512.2 183.3 510.5 200.0 508.8C216.7 507.1 233.3 505.1 250.0 503.0C266.7 500.9 283.3 498.1 300.0 495.9C316.7 493.7 333.3 492.1 350.0 490.0C366.7 487.9 383.3 484.8 400.0 483.6C416.7 482.4 435.2 483.1 450.0 482.6C464.8 482.1 475.7 481.3 488.5 480.6"/>
<path d="M100.0 528.9C116.7 528.9 133.3 528.9 150.0 528.9C166.7 528.9 183.3 528.7 200.0 528.7C216.7 528.7 233.3 529.9 250.0 528.7C266.7 527.5 283.3 524.4 300.0 521.5C316.7 518.6 333.3 513.9 350.0 511.6C366.7 509.3 383.3 509.1 400.0 507.7C416.7 506.3 435.2 504.2 450.0 503.3C464.8 502.4 475.7 502.6 488.5 502.3"/>
<g stroke-width="2.1"><path d="M100.0 157.6C116.7 157.6 133.3 165.0 150.0 169.0C166.7 173.0 183.3 177.4 200.0 181.5C216.7 185.6 233.3 190.4 250.0 193.4C266.7 196.4 283.3 198.1 300.0 199.5C316.7 200.9 333.3 201.1 350.0 201.8C366.7 202.5 383.3 203.0 400.0 203.5C416.7 204.0 435.2 204.5 450.0 204.9C464.8 205.3 475.7 205.6 488.5 206.0"/>
<path d="M100.0 188.3C116.7 188.3 133.3 194.5 150.0 197.3C166.7 200.2 183.3 202.6 200.0 205.4C216.7 208.2 233.3 212.3 250.0 214.3C266.7 216.3 283.3 217.2 300.0 217.4C316.7 217.6 333.3 215.6 350.0 215.3C366.7 215.1 383.3 216.1 400.0 215.9C416.7 215.7 435.2 214.1 450.0 214.3C464.8 214.5 475.7 216.0 488.5 216.9"/>
<path d="M100.0 478.0C116.7 478.0 133.3 483.5 150.0 487.0C166.7 490.5 185.7 495.0 200.0 498.8C214.3 502.6 224.0 505.1 236.0 509.6C248.0 514.1 261.3 521.5 272.0 525.9C282.7 530.3 290.3 531.5 300.0 536.0C309.7 540.5 318.3 548.6 330.0 553.0C341.7 557.4 353.3 560.4 370.0 562.5C386.7 564.6 410.2 565.1 430.0 565.5C449.8 565.9 469.0 565.2 488.5 565.0"/></g>
</g>
<g stroke="#e00000" stroke-width="3" stroke-linecap="round" stroke-dasharray="8 12.78">
<line x1="98.9" y1="436.6" x2="487" y2="436.6"/>
</g>
<g stroke="#e00000" stroke-width="3" stroke-linecap="round" stroke-dasharray="8 12.9">
<line x1="508.3" y1="436.6" x2="664" y2="436.6"/>
</g>
<g fill="none" stroke="#000" stroke-width="1.7" stroke-linejoin="round">
<polyline points="509.0,91.3 527.5,96.7 569.0,102.5 548.2,107.5 518.5,112.9 544.6,118.3 553.6,123.2 518.5,129.1 515.5,134.0 558.2,139.0 578.5,144.8 548.2,150.2 541.9,155.6 577.1,161.0 573.5,166.5 576.0,170.5 578.6,172.4 608.0,176.6 620.2,182.9 616.4,187.7 592.2,192.7 590.1,198.2 618.1,203.9 609.1,209.1 568.1,214.4 543.9,219.7 544.9,224.9 561.8,230.6 590.1,235.4 561.8,241.1 548.1,245.9 540.7,251.2 513.4,262.1 510.3,264.9 509.2,268.0"/>
<polyline points="509.0,427.7 512.2,431.3 516.7,433.1 528.4,435.8 550.0,440.3 573.5,443.9 565.4,449.3 578.0,453.8 606.8,460.1 559.0,465.0 549.1,471.0 580.7,481.8 591.5,492.0 559.0,502.8 572.6,508.2 566.3,513.3 541.9,518.7 542.5,524.3 552.3,535.8 557.9,540.7 578.2,545.2 582.7,551.1 561.3,556.0 570.3,559.4 582.7,561.7 617.5,566.8 628.7,571.7 645.9,577.1 617.0,579.8 581.6,581.9 552.3,587.6 553.4,594.3 546.7,604.5 552.6,609.4 566.3,614.8 511.3,625.7 513.1,630.0 537.5,636.9 551.3,641.9 525.0,646.9 508.8,652.6"/>
</g>
<g stroke="#000" stroke-width="2.3" stroke-linecap="round">
<line x1="87.4" y1="651.0" x2="99.5" y2="651.0"/>
<line x1="87.4" y1="597.6" x2="99.5" y2="597.6"/>
<line x1="87.4" y1="544.2" x2="99.5" y2="544.2"/>
<line x1="87.4" y1="490.8" x2="99.5" y2="490.8"/>
<line x1="87.4" y1="437.3" x2="99.5" y2="437.3"/>
<line x1="87.4" y1="383.9" x2="99.5" y2="383.9"/>
<line x1="87.4" y1="330.5" x2="99.5" y2="330.5"/>
<line x1="87.4" y1="277.1" x2="99.5" y2="277.1"/>
<line x1="87.4" y1="223.7" x2="99.5" y2="223.7"/>
<line x1="87.4" y1="170.2" x2="99.5" y2="170.2"/>
<line x1="87.4" y1="116.8" x2="99.5" y2="116.8"/>
<line x1="87.4" y1="63.4" x2="99.5" y2="63.4"/>
<line x1="93.3" y1="677.7" x2="99.5" y2="677.7"/>
<line x1="93.3" y1="624.3" x2="99.5" y2="624.3"/>
<line x1="93.3" y1="570.9" x2="99.5" y2="570.9"/>
<line x1="93.3" y1="517.5" x2="99.5" y2="517.5"/>
<line x1="93.3" y1="464.1" x2="99.5" y2="464.1"/>
<line x1="93.3" y1="410.6" x2="99.5" y2="410.6"/>
<line x1="93.3" y1="357.2" x2="99.5" y2="357.2"/>
<line x1="93.3" y1="303.8" x2="99.5" y2="303.8"/>
<line x1="93.3" y1="250.4" x2="99.5" y2="250.4"/>
<line x1="93.3" y1="197.0" x2="99.5" y2="197.0"/>
<line x1="93.3" y1="143.5" x2="99.5" y2="143.5"/>
<line x1="93.3" y1="90.1" x2="99.5" y2="90.1"/>
<line x1="93.3" y1="36.7" x2="99.5" y2="36.7"/>
</g>
<g fill="none" stroke="#000" stroke-width="2.4">
<rect x="99.5" y="36.9" width="389.5" height="640.8"/>
<rect x="508.7" y="36.9" width="155.9" height="640.8"/>
</g>
<g font-family="'Liberation Sans', sans-serif" font-size="26" text-anchor="end" fill="#000" stroke="#000" stroke-width="0.25">
<text transform="translate(78.8,659.42) scale(1,1.08)">-4</text>
<text transform="translate(78.8,606.00) scale(1,1.08)">-3</text>
<text transform="translate(78.8,552.58) scale(1,1.08)">-2</text>
<text transform="translate(78.8,499.16) scale(1,1.08)">-1</text>
<text transform="translate(78.8,445.74) scale(1,1.08)">0</text>
<text transform="translate(78.8,392.32) scale(1,1.08)">1</text>
<text transform="translate(78.8,338.90) scale(1,1.08)">2</text>
<text transform="translate(78.8,285.48) scale(1,1.08)">3</text>
<text transform="translate(78.8,232.06) scale(1,1.08)">4</text>
<text transform="translate(78.8,178.64) scale(1,1.08)">5</text>
<text transform="translate(78.8,125.22) scale(1,1.08)">6</text>
<text transform="translate(78.8,71.80) scale(1,1.08)">7</text>
</g>
<g font-family="'Liberation Serif', serif" font-size="32" fill="#000">
<text x="300.1" y="22" text-anchor="middle" font-size="32.6">Bands</text>
<text x="584.6" y="24.2" text-anchor="middle" font-size="32.8">DOS</text>
<text x="99" y="709.5" text-anchor="middle">&#915;</text>
<text x="488" y="709" text-anchor="middle">Z</text>
<text x="585.2" y="717.5" text-anchor="middle">States/eV</text>
<text transform="translate(21.9,355.2) rotate(-90)" text-anchor="middle" font-size="32.6">Energy (eV)</text>
<text x="624.3" y="412.2" font-size="39.5">&#949;</text>
</g>
<text x="641.5" y="425.6" font-family="'Liberation Sans', sans-serif" font-size="23">f</text>
</svg>
</body></html>
